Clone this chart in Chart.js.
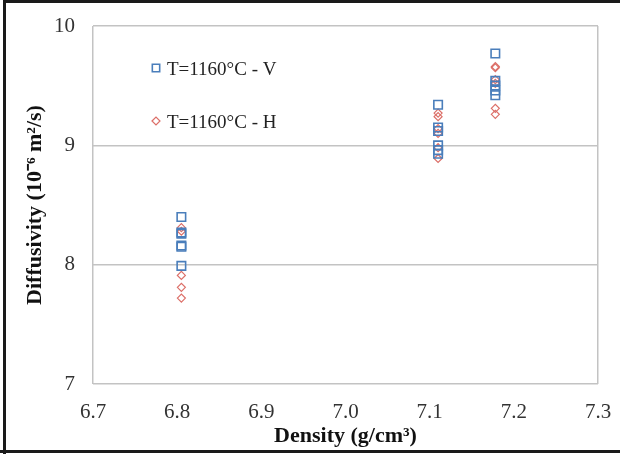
<!DOCTYPE html>
<html lang="en">
<head>
<meta charset="UTF-8">
<script src="https://cdn.jsdelivr.net/npm/chart.js@4"></script>
<title>Diffusivity vs density</title>
<style>
  body { margin: 0; background: #fff; }
  #wrap { width: 620px; height: 454px; position: relative; }
</style>
</head>
<body>
<div id="wrap"><canvas id="chart"></canvas></div>
<script>
// measured samples, T = 1160 °C, vertical (V) and horizontal (H) direction
var densityV     = [6.805, 6.805, 6.805, 6.805, 6.805, 6.805, 7.11, 7.11, 7.11, 7.11, 7.11, 7.11, 7.178, 7.178, 7.178, 7.178, 7.178];
var diffusivityV = [8.40, 8.27, 8.26, 8.16, 8.15, 7.99, 9.34, 9.15, 9.12, 9.00, 8.96, 8.93, 9.77, 9.54, 9.50, 9.46, 9.42];

var densityH     = [6.805, 6.805, 6.805, 6.805, 6.805, 7.11, 7.11, 7.11, 7.11, 7.11, 7.11, 7.178, 7.178, 7.178, 7.178, 7.178, 7.178];
var diffusivityH = [8.31, 8.28, 7.91, 7.81, 7.72, 9.27, 9.24, 9.14, 9.10, 8.98, 8.89, 9.66, 9.65, 9.55, 9.52, 9.31, 9.26];

var seriesLabels = ["T=1160°C - V", "T=1160°C - H"];
var xTicks = [6.7, 6.8, 6.9, 7.0, 7.1, 7.2, 7.3];
var yTicks = [7, 8, 9, 10];

function toPoints(xs, ys) {
    return xs.map(function (x, i) { return { x: x, y: ys[i] }; });
}

var serif = "'Liberation Serif', 'Times New Roman', serif";
var gridGray = "#c3c3c3";

// legend drawn inside the plot, top left
var innerLegend = {
    id: "innerLegend",
    afterDraw: function (chart) {
        var ctx = chart.ctx;
        var area = chart.chartArea;
        ctx.save();
        chart.data.datasets.forEach(function (ds, i) {
            var y = area.top + 42 + i * 53;
            var x = area.left + 63;
            ctx.strokeStyle = ds.borderColor;
            ctx.fillStyle = "rgba(0,0,0,0)";
            ctx.lineWidth = ds.pointBorderWidth;
            Chart.helpers.drawPoint(ctx, {
                pointStyle: ds.pointStyle,
                radius: i === 0 ? 5.2 : 4,
                rotation: 0,
                borderWidth: ds.pointBorderWidth
            }, x, y);
            ctx.fillStyle = "#222";
            ctx.font = "19px " + serif;
            ctx.textBaseline = "middle";
            ctx.fillText(ds.label, x + 11, y + 2);
        });
        ctx.restore();
    }
};

// black frame around the figure
var figureFrame = {
    id: "figureFrame",
    afterDraw: function (chart) {
        var ctx = chart.ctx;
        ctx.save();
        ctx.strokeStyle = "#1a1a1a";
        ctx.lineWidth = 3;
        ctx.beginPath();
        ctx.moveTo(4.5, 454);
        ctx.lineTo(4.5, 1.5);
        ctx.lineTo(620, 1.5);
        ctx.moveTo(0, 451.5);
        ctx.lineTo(620, 451.5);
        ctx.stroke();
        ctx.restore();
    }
};

new Chart(document.getElementById("chart"), {
    type: "scatter",
    data: {
        datasets: [
            {
                label: seriesLabels[0],
                data: toPoints(densityV, diffusivityV),
                pointStyle: "rect",
                pointRadius: 6,
                pointBorderWidth: 1.6,
                borderColor: "#4a7ebb",
                backgroundColor: "rgba(0,0,0,0)"
            },
            {
                label: seriesLabels[1],
                data: toPoints(densityH, diffusivityH),
                pointStyle: "rectRot",
                pointRadius: 4,
                pointBorderWidth: 1.2,
                borderColor: "#dc6f68",
                backgroundColor: "rgba(0,0,0,0)"
            }
        ]
    },
    options: {
        responsive: true,
        maintainAspectRatio: false,
        animation: false,
        devicePixelRatio: 1,
        layout: { padding: { left: 10, top: 26, right: 22, bottom: 4 } },
        plugins: {
            legend: { display: false },
            tooltip: { enabled: false }
        },
        scales: {
            x: {
                type: "linear",
                min: 6.7,
                max: 7.3,
                afterBuildTicks: function (scale) {
                    scale.ticks = xTicks.map(function (v) { return { value: v }; });
                },
                // fixed axis box; edge labels may hang into the padding
                afterFit: function (scale) {
                    scale.height = 66;
                    scale.paddingLeft = 0;
                    scale.paddingRight = 0;
                },
                ticks: {
                    padding: 16,
                    color: "#333",
                    font: { family: serif, size: 21 },
                    callback: function (v) { return v.toFixed(1); }
                },
                grid: {
                    drawTicks: false,
                    lineWidth: 1.5,
                    color: function (c) {
                        return (c.tick && (c.tick.value === 6.7 || c.tick.value === 7.3)) ? gridGray : "rgba(0,0,0,0)";
                    }
                },
                border: { display: false },
                title: {
                    display: true,
                    text: "Density (g/cm³)",
                    color: "#111",
                    font: { family: serif, size: 22, weight: "bold" },
                    padding: { top: 0, bottom: 0 }
                }
            },
            y: {
                type: "linear",
                min: 7,
                max: 10,
                afterBuildTicks: function (scale) {
                    scale.ticks = yTicks.map(function (v) { return { value: v }; });
                },
                afterFit: function (scale) {
                    scale.width = 83;
                    scale.paddingTop = 0;
                    scale.paddingBottom = 0;
                },
                ticks: {
                    padding: 18,
                    color: "#333",
                    font: { family: serif, size: 21 }
                },
                grid: {
                    drawTicks: false,
                    lineWidth: 1.5,
                    color: gridGray
                },
                border: { display: false },
                title: {
                    display: true,
                    text: "Diffusivity (10⁻⁶ m²/s)",
                    color: "#111",
                    font: { family: serif, size: 22, weight: "bold" },
                    padding: { top: 12, bottom: 0 }
                }
            }
        }
    },
    plugins: [innerLegend, figureFrame]
});
</script>
</body>
</html>
